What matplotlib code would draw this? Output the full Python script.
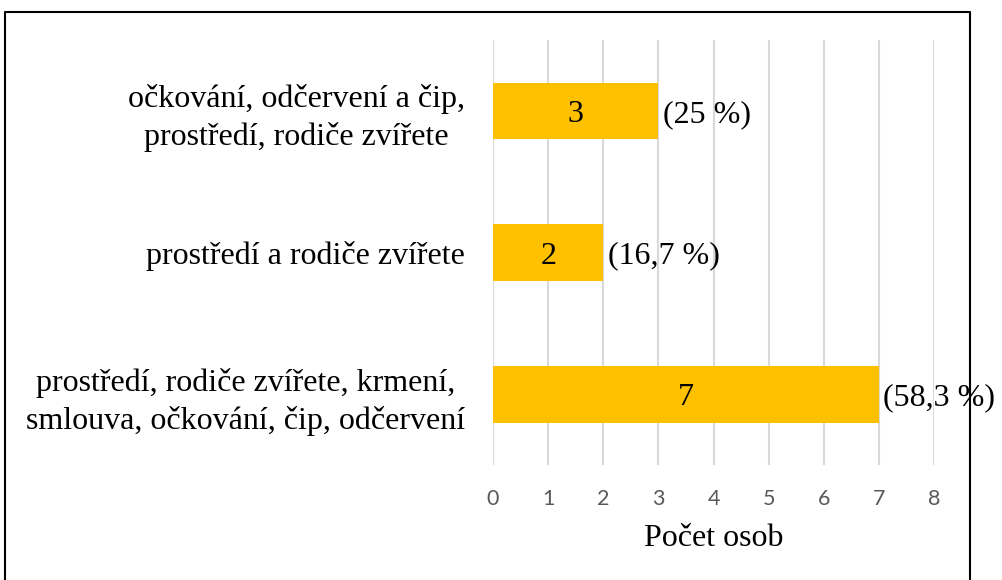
import matplotlib.pyplot as plt
from matplotlib.lines import Line2D

# categories from bottom to top
categories = ['prostředí, rodiče zvířete, krmení,\nsmlouva, očkování, čip, odčervení',
              'prostředí a rodiče zvířete',
              'očkování, odčervení a čip,\nprostředí, rodiče zvířete']
counts = [7, 2, 3]
percent_labels = ['(58,3 %)', '(16,7 %)', '(25 %)']
xticks = [0, 1, 2, 3, 4, 5, 6, 7, 8]

serif = 'Liberation Serif'
fs = 23

fig = plt.figure(figsize=(10.03, 5.8), dpi=100)
ax = fig.add_axes([493 / 1003, 1 - 465 / 580, 441 / 1003, 425 / 580])

y = range(len(categories))
ax.barh(y, counts, height=0.4, color='#FFC000', zorder=2)

for i, (v, p) in enumerate(zip(counts, percent_labels)):
    ax.text(v / 2, i, str(v), ha='center', va='center_baseline', fontsize=fs,
            family=serif, zorder=3)
    ax.text(v + 0.08, i, p, ha='left', va='center_baseline', fontsize=fs, family=serif,
            zorder=3, clip_on=False)

ax.set_xlim(0, 8)
ax.set_ylim(-0.5, 2.5)
ax.set_xticks(xticks)
ax.set_yticks(list(y))
ax.set_yticklabels(categories, family=serif, fontsize=fs, ha='right',
                   multialignment='center', linespacing=1.35)
ax.tick_params(axis='y', length=0, pad=20)
ax.tick_params(axis='x', length=0, pad=17, labelsize=15.5, labelcolor='#595959')
for lab in ax.get_xticklabels():
    lab.set_family('Lato')
ax.grid(axis='x', color='#D9D9D9', linewidth=1.5, zorder=0)
for s in ax.spines.values():
    s.set_visible(False)

ax.set_xlabel('Počet osob', family=serif, fontsize=fs, labelpad=11)

# frame around the chart (bottom edge is off the picture)
W, H = 1003, 580
pts_x = [5 / W, 5 / W, 970 / W, 970 / W]
pts_y = [0, 1 - 12 / H, 1 - 12 / H, 0]
fig.add_artist(Line2D(pts_x, pts_y, color='black', linewidth=1.5, transform=fig.transFigure))

fig.savefig('out.png', dpi=100)
